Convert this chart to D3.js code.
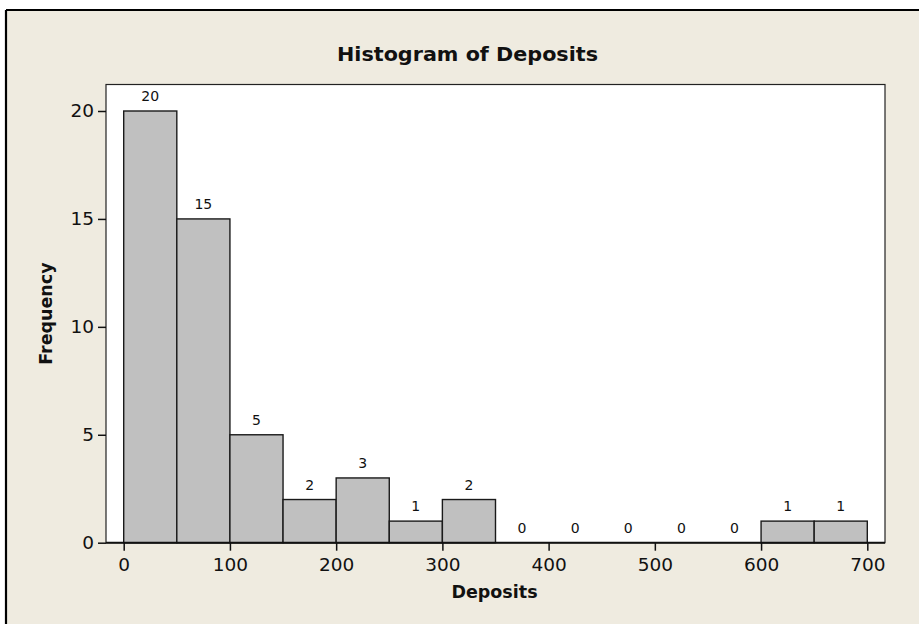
<!DOCTYPE html>
<html>
<head>
<meta charset="utf-8">
<script src="https://cdn.jsdelivr.net/npm/d3@7"></script>
<style>
  html, body { margin: 0; padding: 0; background: #ffffff; }
  svg { display: block; }
  text { font-family: "DejaVu Sans", Verdana, sans-serif; fill: #111; }
</style>
</head>
<body>
<svg id="chart" width="919" height="624"></svg>
<script>
// ---- data ----
const binStarts = [0, 50, 100, 150, 200, 250, 300, 350, 400, 450, 500, 550, 600, 650];
const binWidth = 50;
const counts = [20, 15, 5, 2, 3, 1, 2, 0, 0, 0, 0, 0, 1, 1];
const xTicks = [0, 100, 200, 300, 400, 500, 600, 700];
const yTicks = [0, 5, 10, 15, 20];
const title = "Histogram of Deposits";
const xLabel = "Deposits";
const yLabel = "Frequency";

// ---- layout ----
const W = 919, H = 624;
const plot = { left: 106, right: 885, top: 84.5, bottom: 542.7 };

const svg = d3.select("#chart");

// outer background + frame (only top/left edges visible)
svg.append("rect").attr("x", 6).attr("y", 10).attr("width", W).attr("height", H)
  .attr("fill", "#EFEBE0");
svg.append("line").attr("x1", 6).attr("x2", W).attr("y1", 10).attr("y2", 10)
  .attr("stroke", "#000").attr("stroke-width", 2.2);
svg.append("line").attr("x1", 6).attr("x2", 6).attr("y1", 10).attr("y2", H)
  .attr("stroke", "#000").attr("stroke-width", 2.2);

// scales
const x = d3.scaleLinear().domain([0, 700]).range([123.7, 867.3]);
const y = d3.scaleLinear().domain([0, 20]).range([plot.bottom, 111]);

// plot area
svg.append("rect")
  .attr("x", plot.left).attr("y", plot.top)
  .attr("width", plot.right - plot.left).attr("height", plot.bottom - plot.top)
  .attr("fill", "#fff").attr("stroke", "#222").attr("stroke-width", 1.2);

// bars
const data = binStarts.map((s, i) => ({ s, e: s + binWidth, c: counts[i] }));
svg.append("g").selectAll("rect").data(data).join("rect")
  .attr("x", d => x(d.s))
  .attr("y", d => y(d.c))
  .attr("width", d => x(d.e) - x(d.s))
  .attr("height", d => y(0) - y(d.c))
  .attr("fill", "#C0C0C0")
  .attr("stroke", "#1a1a1a")
  .attr("stroke-width", 1.4);

// bar labels
svg.append("g").selectAll("text").data(data).join("text")
  .attr("x", d => (x(d.s) + x(d.e)) / 2)
  .attr("y", d => y(d.c) - 10)
  .attr("text-anchor", "middle")
  .attr("font-size", "14px")
  .text(d => d.c);

// x axis
const xAxis = d3.axisBottom(x).tickValues(xTicks).tickSize(8).tickPadding(7).tickSizeOuter(0);
const gx = svg.append("g").attr("transform", `translate(0,${plot.bottom})`).call(xAxis);
gx.select(".domain").remove();
gx.append("line").attr("x1", plot.left).attr("x2", plot.right)
  .attr("y1", 0).attr("y2", 0).attr("stroke", "#111").attr("stroke-width", 2);
gx.selectAll(".tick line").attr("stroke", "#111").attr("stroke-width", 1.5);
gx.selectAll(".tick text").attr("font-size", "18.5px")
  .attr("font-family", "DejaVu Sans, Verdana, sans-serif").attr("fill", "#111");

// y axis
const yAxis = d3.axisLeft(y).tickValues(yTicks).tickSize(8).tickPadding(4).tickSizeOuter(0);
const gy = svg.append("g").attr("transform", `translate(${plot.left},0)`).call(yAxis);
gy.select(".domain").remove();
gy.selectAll(".tick line").attr("stroke", "#111").attr("stroke-width", 1.5);
gy.selectAll(".tick text").attr("font-size", "18.5px")
  .attr("font-family", "DejaVu Sans, Verdana, sans-serif").attr("fill", "#111");

// title
svg.append("text")
  .attr("x", 467.5).attr("y", 61)
  .attr("text-anchor", "middle")
  .attr("font-size", "19px").attr("font-weight", "bold")
  .attr("textLength", 261).attr("lengthAdjust", "spacingAndGlyphs")
  .text(title);

// axis titles
svg.append("text")
  .attr("x", (plot.left + plot.right) / 2 - 1).attr("y", 598)
  .attr("text-anchor", "middle")
  .attr("font-size", "17.5px").attr("font-weight", "bold")
  .text(xLabel);

svg.append("text")
  .attr("transform", `translate(52,${(plot.top + plot.bottom) / 2}) rotate(-90)`)
  .attr("text-anchor", "middle")
  .attr("font-size", "17.5px").attr("font-weight", "bold")
  .text(yLabel);
</script>
</body>
</html>
